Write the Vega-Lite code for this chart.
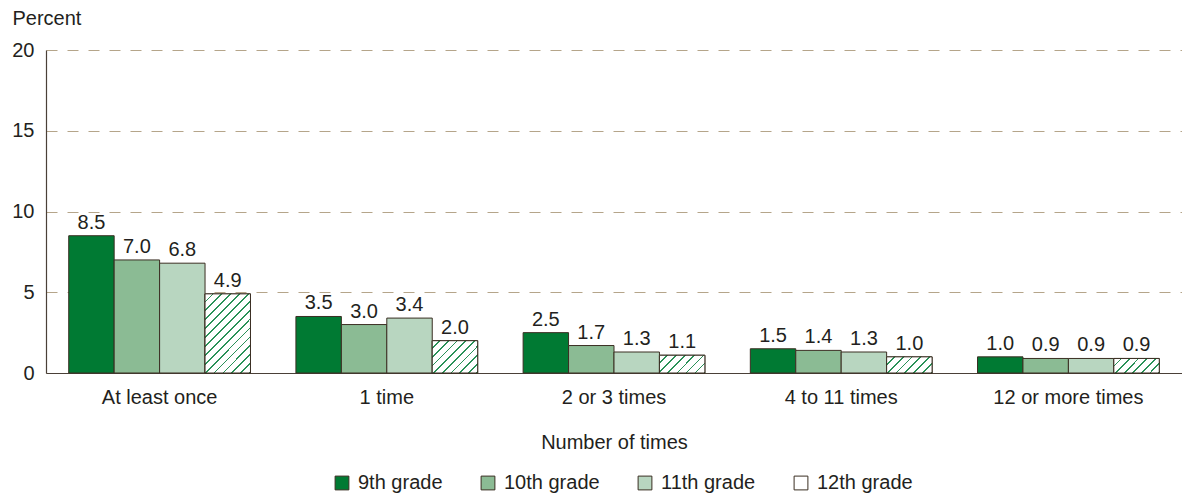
{
  "$schema": "https://vega.github.io/schema/vega-lite/v6.json",
  "width": 1136,
  "height": 323,
  "autosize": "none",
  "padding": {"left": 46, "top": 50, "right": 0, "bottom": 124},
  "background": "white",
  "config": {"view": {"stroke": null}, "font": "Liberation Sans"},
  "data": {"values": [
    {"times": "At least once", "grade": "9th grade", "value": 8.5},
    {"times": "At least once", "grade": "10th grade", "value": 7.0},
    {"times": "At least once", "grade": "11th grade", "value": 6.8},
    {"times": "At least once", "grade": "12th grade", "value": 4.9},
    {"times": "1 time", "grade": "9th grade", "value": 3.5},
    {"times": "1 time", "grade": "10th grade", "value": 3.0},
    {"times": "1 time", "grade": "11th grade", "value": 3.4},
    {"times": "1 time", "grade": "12th grade", "value": 2.0},
    {"times": "2 or 3 times", "grade": "9th grade", "value": 2.5},
    {"times": "2 or 3 times", "grade": "10th grade", "value": 1.7},
    {"times": "2 or 3 times", "grade": "11th grade", "value": 1.3},
    {"times": "2 or 3 times", "grade": "12th grade", "value": 1.1},
    {"times": "4 to 11 times", "grade": "9th grade", "value": 1.5},
    {"times": "4 to 11 times", "grade": "10th grade", "value": 1.4},
    {"times": "4 to 11 times", "grade": "11th grade", "value": 1.3},
    {"times": "4 to 11 times", "grade": "12th grade", "value": 1.0},
    {"times": "12 or more times", "grade": "9th grade", "value": 1.0},
    {"times": "12 or more times", "grade": "10th grade", "value": 0.9},
    {"times": "12 or more times", "grade": "11th grade", "value": 0.9},
    {"times": "12 or more times", "grade": "12th grade", "value": 0.9}
  ]},
  "encoding": {
    "x": {
      "field": "times", "type": "nominal",
      "sort": ["At least once", "1 time", "2 or 3 times", "4 to 11 times", "12 or more times"],
      "scale": {"paddingInner": 0.2, "paddingOuter": 0.1},
      "axis": {
        "title": "Number of times", "labelAngle": 0, "ticks": false, "tickSize": 0,
        "labelPadding": 14, "labelFontSize": 20, "labelColor": "#231f20",
        "domainColor": "#4a4038", "domainWidth": 1.2,
        "titleFontSize": 20, "titleFontWeight": "normal", "titleColor": "#231f20", "titlePadding": 25
      }
    },
    "xOffset": {
      "field": "grade", "type": "nominal",
      "sort": ["9th grade", "10th grade", "11th grade", "12th grade"],
      "scale": {"paddingInner": 0, "paddingOuter": 0}
    },
    "y": {
      "field": "value", "type": "quantitative",
      "scale": {"domain": [0, 20]},
      "axis": {
        "values": [0, 5, 10, 15, 20], "ticks": false, "tickSize": 0,
        "domainColor": "#4a4038", "domainWidth": 1.2,
        "gridColor": "#b5a58a", "gridDash": [11, 10], "gridWidth": 1,
        "labelFontSize": 20, "labelColor": "#231f20", "labelPadding": 12,
        "title": "Percent", "titleAngle": 0, "titleAlign": "left", "titleBaseline": "middle",
        "titleX": -34, "titleY": -32, "titleFontSize": 20, "titleFontWeight": "normal", "titleColor": "#231f20"
      }
    }
  },
  "layer": [
    {
      "mark": {"type": "bar", "stroke": "#3a2e22", "strokeWidth": 1},
      "encoding": {
        "fill": {
          "field": "grade", "type": "nominal",
          "scale": {"domain": ["9th grade", "10th grade", "11th grade", "12th grade"], "range": ["#007a33", "#8bbb94", "#b8d6c0", "#ffffff"]},
          "legend": {
            "title": null, "orient": "none", "legendX": 286, "legendY": 423, "direction": "horizontal",
            "symbolType": "square", "symbolSize": 190, "symbolStrokeColor": "#3a2e22", "symbolStrokeWidth": 1,
            "symbolOpacity": 1,
            "labelFontSize": 20, "labelColor": "#231f20", "labelOffset": 6, "columnPadding": 35, "padding": 0,
            "encode": {"symbols": {"update": {
              "stroke": {"value": "#3a2e22"},
              "strokeWidth": {"value": 1},
              "opacity": {"value": 1},
              "fill": [
                {"test": "datum.value === '12th grade'", "value": {"gradient": "linear", "x1": 0, "y1": 0, "x2": 1, "y2": 1, "stops": [
                  {"offset": 0, "color": "#ffffff"}, {"offset": 0.25, "color": "#ffffff"}, {"offset": 0.25, "color": "#2a9158"}, {"offset": 0.3333, "color": "#2a9158"},
                  {"offset": 0.3333, "color": "#ffffff"}, {"offset": 0.5833, "color": "#ffffff"}, {"offset": 0.5833, "color": "#2a9158"}, {"offset": 0.6667, "color": "#2a9158"},
                  {"offset": 0.6667, "color": "#ffffff"}, {"offset": 0.9167, "color": "#ffffff"}, {"offset": 0.9167, "color": "#2a9158"}, {"offset": 1, "color": "#2a9158"}
                ]}},
                {"test": "datum.value === '9th grade'", "value": "#007a33"},
                {"test": "datum.value === '10th grade'", "value": "#8bbb94"},
                {"value": "#b8d6c0"}
              ]
            }}}
          }
        }
      }
    },
    {
      "transform": [{"filter": "datum.grade === '12th grade'"}],
      "mark": {"type": "bar", "stroke": "#3a2e22", "strokeWidth": 1},
      "encoding": {
        "fill": {
          "condition": [
            {"test": "datum.times === 'At least once'", "value": {"gradient": "linear", "x1": 0, "y1": 0, "x2": 0.682, "y2": 1.183, "stops": [
              {"offset": 0, "color": "#ffffff"}, {"offset": 0.0571, "color": "#ffffff"}, {"offset": 0.0571, "color": "#2a9158"}, {"offset": 0.0714, "color": "#2a9158"},
              {"offset": 0.0714, "color": "#ffffff"}, {"offset": 0.1286, "color": "#ffffff"}, {"offset": 0.1286, "color": "#2a9158"}, {"offset": 0.1429, "color": "#2a9158"},
              {"offset": 0.1429, "color": "#ffffff"}, {"offset": 0.2, "color": "#ffffff"}, {"offset": 0.2, "color": "#2a9158"}, {"offset": 0.2143, "color": "#2a9158"},
              {"offset": 0.2143, "color": "#ffffff"}, {"offset": 0.2714, "color": "#ffffff"}, {"offset": 0.2714, "color": "#2a9158"}, {"offset": 0.2857, "color": "#2a9158"},
              {"offset": 0.2857, "color": "#ffffff"}, {"offset": 0.3429, "color": "#ffffff"}, {"offset": 0.3429, "color": "#2a9158"}, {"offset": 0.3571, "color": "#2a9158"},
              {"offset": 0.3571, "color": "#ffffff"}, {"offset": 0.4143, "color": "#ffffff"}, {"offset": 0.4143, "color": "#2a9158"}, {"offset": 0.4286, "color": "#2a9158"},
              {"offset": 0.4286, "color": "#ffffff"}, {"offset": 0.4857, "color": "#ffffff"}, {"offset": 0.4857, "color": "#2a9158"}, {"offset": 0.5, "color": "#2a9158"},
              {"offset": 0.5, "color": "#ffffff"}, {"offset": 0.5571, "color": "#ffffff"}, {"offset": 0.5571, "color": "#2a9158"}, {"offset": 0.5714, "color": "#2a9158"},
              {"offset": 0.5714, "color": "#ffffff"}, {"offset": 0.6286, "color": "#ffffff"}, {"offset": 0.6286, "color": "#2a9158"}, {"offset": 0.6429, "color": "#2a9158"},
              {"offset": 0.6429, "color": "#ffffff"}, {"offset": 0.7, "color": "#ffffff"}, {"offset": 0.7, "color": "#2a9158"}, {"offset": 0.7143, "color": "#2a9158"},
              {"offset": 0.7143, "color": "#ffffff"}, {"offset": 0.7714, "color": "#ffffff"}, {"offset": 0.7714, "color": "#2a9158"}, {"offset": 0.7857, "color": "#2a9158"},
              {"offset": 0.7857, "color": "#ffffff"}, {"offset": 0.8429, "color": "#ffffff"}, {"offset": 0.8429, "color": "#2a9158"}, {"offset": 0.8571, "color": "#2a9158"},
              {"offset": 0.8571, "color": "#ffffff"}, {"offset": 0.9143, "color": "#ffffff"}, {"offset": 0.9143, "color": "#2a9158"}, {"offset": 0.9286, "color": "#2a9158"},
              {"offset": 0.9286, "color": "#ffffff"}, {"offset": 0.9857, "color": "#ffffff"}, {"offset": 0.9857, "color": "#2a9158"}, {"offset": 1, "color": "#2a9158"}
            ]}},
            {"test": "datum.times === '1 time'", "value": {"gradient": "linear", "x1": 0, "y1": 0, "x2": 1.138, "y2": 0.806, "stops": [
              {"offset": 0, "color": "#ffffff"}, {"offset": 0.0889, "color": "#ffffff"}, {"offset": 0.0889, "color": "#2a9158"}, {"offset": 0.1111, "color": "#2a9158"},
              {"offset": 0.1111, "color": "#ffffff"}, {"offset": 0.2, "color": "#ffffff"}, {"offset": 0.2, "color": "#2a9158"}, {"offset": 0.2222, "color": "#2a9158"},
              {"offset": 0.2222, "color": "#ffffff"}, {"offset": 0.3111, "color": "#ffffff"}, {"offset": 0.3111, "color": "#2a9158"}, {"offset": 0.3333, "color": "#2a9158"},
              {"offset": 0.3333, "color": "#ffffff"}, {"offset": 0.4222, "color": "#ffffff"}, {"offset": 0.4222, "color": "#2a9158"}, {"offset": 0.4444, "color": "#2a9158"},
              {"offset": 0.4444, "color": "#ffffff"}, {"offset": 0.5333, "color": "#ffffff"}, {"offset": 0.5333, "color": "#2a9158"}, {"offset": 0.5556, "color": "#2a9158"},
              {"offset": 0.5556, "color": "#ffffff"}, {"offset": 0.6444, "color": "#ffffff"}, {"offset": 0.6444, "color": "#2a9158"}, {"offset": 0.6667, "color": "#2a9158"},
              {"offset": 0.6667, "color": "#ffffff"}, {"offset": 0.7556, "color": "#ffffff"}, {"offset": 0.7556, "color": "#2a9158"}, {"offset": 0.7778, "color": "#2a9158"},
              {"offset": 0.7778, "color": "#ffffff"}, {"offset": 0.8667, "color": "#ffffff"}, {"offset": 0.8667, "color": "#2a9158"}, {"offset": 0.8889, "color": "#2a9158"},
              {"offset": 0.8889, "color": "#ffffff"}, {"offset": 0.9778, "color": "#ffffff"}, {"offset": 0.9778, "color": "#2a9158"}, {"offset": 1, "color": "#2a9158"}
            ]}},
            {"test": "datum.times === '2 or 3 times'", "value": {"gradient": "linear", "x1": 0, "y1": 0, "x2": 1.207, "y2": 0.471, "stops": [
              {"offset": 0, "color": "#ffffff"}, {"offset": 0.1143, "color": "#ffffff"}, {"offset": 0.1143, "color": "#2a9158"}, {"offset": 0.1429, "color": "#2a9158"},
              {"offset": 0.1429, "color": "#ffffff"}, {"offset": 0.2571, "color": "#ffffff"}, {"offset": 0.2571, "color": "#2a9158"}, {"offset": 0.2857, "color": "#2a9158"},
              {"offset": 0.2857, "color": "#ffffff"}, {"offset": 0.4, "color": "#ffffff"}, {"offset": 0.4, "color": "#2a9158"}, {"offset": 0.4286, "color": "#2a9158"},
              {"offset": 0.4286, "color": "#ffffff"}, {"offset": 0.5429, "color": "#ffffff"}, {"offset": 0.5429, "color": "#2a9158"}, {"offset": 0.5714, "color": "#2a9158"},
              {"offset": 0.5714, "color": "#ffffff"}, {"offset": 0.6857, "color": "#ffffff"}, {"offset": 0.6857, "color": "#2a9158"}, {"offset": 0.7143, "color": "#2a9158"},
              {"offset": 0.7143, "color": "#ffffff"}, {"offset": 0.8286, "color": "#ffffff"}, {"offset": 0.8286, "color": "#2a9158"}, {"offset": 0.8571, "color": "#2a9158"},
              {"offset": 0.8571, "color": "#ffffff"}, {"offset": 0.9714, "color": "#ffffff"}, {"offset": 0.9714, "color": "#2a9158"}, {"offset": 1, "color": "#2a9158"}
            ]}},
            {"test": "datum.times === '4 to 11 times'", "value": {"gradient": "linear", "x1": 0, "y1": 0, "x2": 1.204, "y2": 0.426, "stops": [
              {"offset": 0, "color": "#ffffff"}, {"offset": 0.1143, "color": "#ffffff"}, {"offset": 0.1143, "color": "#2a9158"}, {"offset": 0.1429, "color": "#2a9158"},
              {"offset": 0.1429, "color": "#ffffff"}, {"offset": 0.2571, "color": "#ffffff"}, {"offset": 0.2571, "color": "#2a9158"}, {"offset": 0.2857, "color": "#2a9158"},
              {"offset": 0.2857, "color": "#ffffff"}, {"offset": 0.4, "color": "#ffffff"}, {"offset": 0.4, "color": "#2a9158"}, {"offset": 0.4286, "color": "#2a9158"},
              {"offset": 0.4286, "color": "#ffffff"}, {"offset": 0.5429, "color": "#ffffff"}, {"offset": 0.5429, "color": "#2a9158"}, {"offset": 0.5714, "color": "#2a9158"},
              {"offset": 0.5714, "color": "#ffffff"}, {"offset": 0.6857, "color": "#ffffff"}, {"offset": 0.6857, "color": "#2a9158"}, {"offset": 0.7143, "color": "#2a9158"},
              {"offset": 0.7143, "color": "#ffffff"}, {"offset": 0.8286, "color": "#ffffff"}, {"offset": 0.8286, "color": "#2a9158"}, {"offset": 0.8571, "color": "#2a9158"},
              {"offset": 0.8571, "color": "#ffffff"}, {"offset": 0.9714, "color": "#ffffff"}, {"offset": 0.9714, "color": "#2a9158"}, {"offset": 1, "color": "#2a9158"}
            ]}}
          ],
          "value": {"gradient": "linear", "x1": 0, "y1": 0, "x2": 1.197, "y2": 0.381, "stops": [
            {"offset": 0, "color": "#ffffff"}, {"offset": 0.1143, "color": "#ffffff"}, {"offset": 0.1143, "color": "#2a9158"}, {"offset": 0.1429, "color": "#2a9158"},
            {"offset": 0.1429, "color": "#ffffff"}, {"offset": 0.2571, "color": "#ffffff"}, {"offset": 0.2571, "color": "#2a9158"}, {"offset": 0.2857, "color": "#2a9158"},
            {"offset": 0.2857, "color": "#ffffff"}, {"offset": 0.4, "color": "#ffffff"}, {"offset": 0.4, "color": "#2a9158"}, {"offset": 0.4286, "color": "#2a9158"},
            {"offset": 0.4286, "color": "#ffffff"}, {"offset": 0.5429, "color": "#ffffff"}, {"offset": 0.5429, "color": "#2a9158"}, {"offset": 0.5714, "color": "#2a9158"},
            {"offset": 0.5714, "color": "#ffffff"}, {"offset": 0.6857, "color": "#ffffff"}, {"offset": 0.6857, "color": "#2a9158"}, {"offset": 0.7143, "color": "#2a9158"},
            {"offset": 0.7143, "color": "#ffffff"}, {"offset": 0.8286, "color": "#ffffff"}, {"offset": 0.8286, "color": "#2a9158"}, {"offset": 0.8571, "color": "#2a9158"},
            {"offset": 0.8571, "color": "#ffffff"}, {"offset": 0.9714, "color": "#ffffff"}, {"offset": 0.9714, "color": "#2a9158"}, {"offset": 1, "color": "#2a9158"}
          ]}
        }
      }
    },
    {
      "mark": {"type": "text", "baseline": "bottom", "dy": -3, "fontSize": 20, "color": "#231f20"},
      "encoding": {"text": {"field": "value", "type": "quantitative", "format": ".1f"}}
    }
  ]
}
